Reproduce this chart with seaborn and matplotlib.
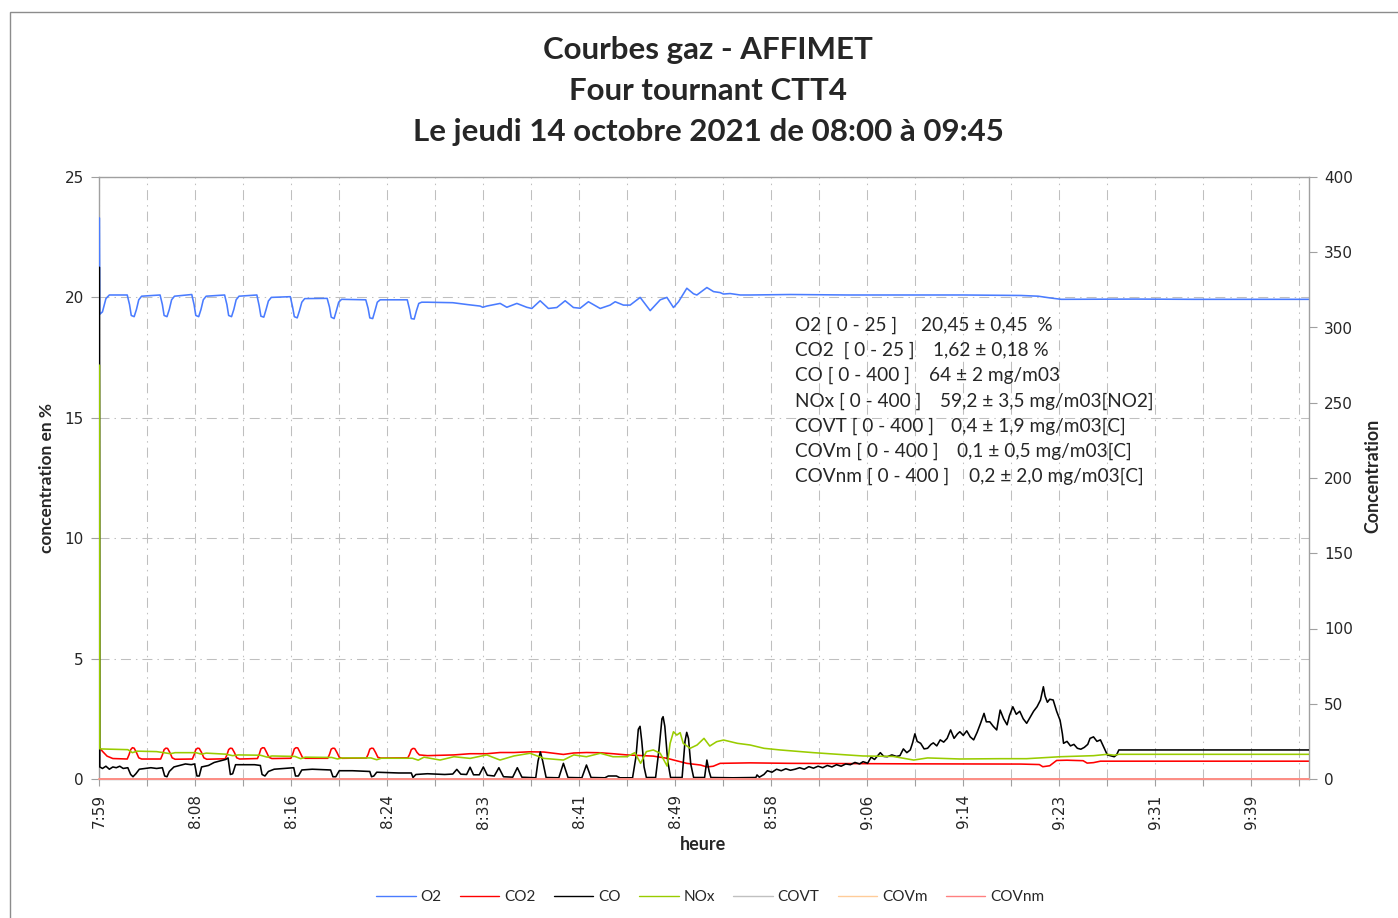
import numpy as np
import matplotlib
matplotlib.use("Agg")
import matplotlib.pyplot as plt
from matplotlib.lines import Line2D
from matplotlib.patches import Rectangle
import seaborn as sns

# time axis: minutes after 7:59:40, one label every 500 s
TICK_LABELS = ["7:59", "8:08", "8:16", "8:24", "8:33", "8:41", "8:49",
               "8:58", "9:06", "9:14", "9:23", "9:31", "9:39"]
X_END = 105.0

# (minutes, %)  -- left axis
O2 = [
    (0.04, 23.3), (0.07, 19.3), (0.3, 19.4), (0.6, 19.95), (0.9, 20.1),
    (2.45, 20.1), (2.65, 19.7), (2.8, 19.25), (3.05, 19.2), (3.25, 19.5), (3.45, 19.9), (3.7, 20.05),
    (5.3, 20.1), (5.5, 19.7), (5.65, 19.25), (5.9, 19.2), (6.1, 19.5), (6.3, 19.9), (6.55, 20.05),
    (8.05, 20.12), (8.25, 19.7), (8.4, 19.25), (8.65, 19.2), (8.85, 19.5), (9.05, 19.9), (9.3, 20.05),
    (10.9, 20.1), (11.1, 19.7), (11.25, 19.25), (11.5, 19.2), (11.7, 19.5), (11.9, 19.9), (12.15, 20.05),
    (13.7, 20.1), (13.9, 19.65), (14.05, 19.22), (14.3, 19.18), (14.5, 19.5), (14.7, 19.85), (14.95, 20.0),
    (16.6, 20.03), (16.8, 19.6), (16.95, 19.2), (17.2, 19.15), (17.4, 19.45), (17.6, 19.8), (17.85, 19.95),
    (19.8, 19.96), (20.0, 19.6), (20.15, 19.18), (20.4, 19.12), (20.6, 19.45), (20.8, 19.8), (21.05, 19.92),
    (23.15, 19.9), (23.35, 19.55), (23.5, 19.15), (23.75, 19.12), (23.95, 19.45), (24.15, 19.8), (24.4, 19.9),
    (26.75, 19.9), (26.95, 19.5), (27.1, 19.12), (27.35, 19.1), (27.55, 19.45), (27.75, 19.75), (28.0, 19.8),
    (28.5, 19.8), (30.7, 19.78), (32.0, 19.7), (33.07, 19.64), (33.3, 19.59), (33.65, 19.64),
    (34.81, 19.75), (35.39, 19.59), (36.26, 19.75), (37.12, 19.59), (37.56, 19.54), (38.28, 19.86),
    (39.0, 19.54), (39.73, 19.58), (40.45, 19.86), (41.17, 19.58), (41.75, 19.55), (42.47, 19.82),
    (43.49, 19.54), (44.35, 19.68), (44.79, 19.82), (45.51, 19.68), (46.09, 19.68), (46.96, 20.0),
    (47.83, 19.45), (48.7, 19.9), (49.28, 20.0), (49.85, 19.58), (50.29, 19.82), (51.01, 20.38),
    (51.59, 20.15), (51.88, 20.1), (52.75, 20.41), (53.33, 20.24), (53.9, 20.2), (54.19, 20.14),
    (54.77, 20.16), (55.64, 20.1), (56.51, 20.1), (60, 20.12), (65, 20.1), (70, 20.1), (75, 20.1),
    (80, 20.08), (81.5, 20.05), (82.5, 19.98), (83.5, 19.92), (90, 19.93), (95, 19.92), (105, 19.92),
]

CO2 = [
    (0.04, 1.3), (0.3, 1.15), (0.7, 0.95), (1.2, 0.85), (2.45, 0.83), (2.6, 1.0), (2.75, 1.22), (2.9, 1.3),
    (3.05, 1.28), (3.25, 1.1), (3.45, 0.88), (3.7, 0.83),
    (5.35, 0.83), (5.5, 1.0), (5.65, 1.22), (5.8, 1.28), (5.95, 1.27), (6.15, 1.1), (6.35, 0.88), (6.6, 0.82),
    (8.1, 0.83), (8.25, 1.0), (8.4, 1.22), (8.55, 1.28), (8.7, 1.27), (8.9, 1.1), (9.1, 0.88), (9.35, 0.82),
    (10.95, 0.84), (11.1, 1.0), (11.25, 1.22), (11.4, 1.28), (11.55, 1.27), (11.75, 1.1), (11.95, 0.88), (12.2, 0.83),
    (13.75, 0.85), (13.9, 1.02), (14.05, 1.25), (14.2, 1.3), (14.35, 1.29), (14.55, 1.1), (14.75, 0.9), (15.0, 0.85),
    (16.65, 0.86), (16.8, 1.02), (16.95, 1.25), (17.1, 1.3), (17.25, 1.29), (17.45, 1.1), (17.65, 0.9), (17.9, 0.86),
    (19.85, 0.86), (20.0, 1.02), (20.15, 1.24), (20.3, 1.28), (20.45, 1.27), (20.65, 1.1), (20.85, 0.9), (21.1, 0.86),
    (23.2, 0.87), (23.35, 1.02), (23.5, 1.24), (23.65, 1.28), (23.8, 1.27), (24.0, 1.1), (24.2, 0.9), (24.45, 0.87),
    (26.8, 0.88), (26.95, 1.02), (27.1, 1.22), (27.25, 1.27), (27.4, 1.26), (27.6, 1.1), (27.8, 1.0), (28.5, 0.97),
    (30.8, 1.0), (32.2, 1.05), (33.65, 1.05), (34.8, 1.1), (36.0, 1.1), (37.4, 1.13), (38.6, 1.12),
    (40.3, 1.02), (41.2, 1.08), (42.3, 1.1), (43.5, 1.09), (44.6, 1.05), (45.8, 1.0), (48.1, 0.95),
    (49.3, 0.86), (49.85, 0.79), (51.0, 0.65), (52.2, 0.58), (52.75, 0.5), (53.3, 0.53), (53.9, 0.65),
    (56.5, 0.67), (60, 0.65), (70, 0.63), (80, 0.62), (81.6, 0.6), (81.9, 0.51), (82.5, 0.55),
    (83.1, 0.77), (84.0, 0.78), (85.4, 0.76), (85.75, 0.66), (86.3, 0.68), (86.9, 0.74), (105, 0.74),
]

# (minutes, mg/m3)  -- right axis
CO = [
    (0.04, 340), (0.07, 8), (0.3, 7), (0.6, 8.5), (0.9, 6.5), (1.2, 8), (1.5, 7.5), (1.8, 8.5), (2.1, 7),
    (2.5, 7.5), (2.75, 3), (2.95, 1.5), (3.2, 3.5), (3.5, 6.5), (4.0, 7), (4.5, 7.5), (5.0, 7),
    (5.5, 7.5), (5.7, 2), (5.9, 1.5), (6.1, 5), (6.5, 8), (7.0, 9), (7.5, 10), (8.0, 9.5), (8.3, 10),
    (8.5, 2), (8.7, 2), (8.9, 8), (9.5, 9), (10.0, 11), (10.5, 12), (11.0, 13), (11.2, 14), (11.4, 3),
    (11.6, 3.5), (11.85, 9.5), (13.5, 9.5), (14.0, 9), (14.15, 3), (14.4, 2), (14.7, 5), (15.2, 6.5),
    (16.0, 7), (16.9, 7.5), (17.05, 2), (17.3, 2), (17.6, 6), (18.5, 6.5), (20.1, 6), (20.3, 1.5),
    (20.55, 1.5), (20.85, 5.5), (22.0, 5.5), (23.5, 5), (23.65, 1.5), (23.85, 2), (24.1, 4.5),
    (26.0, 4), (27.1, 4), (27.25, 1), (27.5, 3), (28.5, 3.5), (30.0, 3),
    (30.7, 3.3), (31.05, 6.4), (31.4, 3.2), (31.9, 3), (32.2, 7.8), (32.5, 2.8), (33.0, 2.8),
    (33.35, 8), (33.7, 2.5), (34.3, 2), (34.7, 7.5), (35.1, 1.5), (35.9, 1.2), (36.3, 7.5),
    (36.7, 1.2), (37.9, 0.8), (38.1, 12), (38.3, 18), (38.5, 12), (38.8, 1), (39.9, 0.8),
    (40.3, 10.4), (40.7, 1), (41.9, 0.8), (42.3, 9.3), (42.7, 1), (43.9, 0.8), (44.2, 2),
    (44.9, 2), (45.2, 0.8), (46.3, 0.8), (46.6, 15), (46.8, 33), (46.95, 35), (47.1, 25),
    (47.3, 8), (47.5, 1), (48.3, 1), (48.6, 20), (48.85, 40), (48.95, 41.4), (49.1, 35),
    (49.35, 12), (49.6, 1), (50.6, 1), (50.85, 25), (51.0, 31), (51.15, 27), (51.35, 10),
    (51.6, 1), (52.55, 1), (52.75, 12.6), (52.95, 5), (53.1, 1), (55.0, 0.8), (57.0, 1),
    (57.1, 2.7), (57.3, 1.2), (57.7, 3), (58.0, 5.5), (58.4, 4.5), (58.8, 6.5), (59.2, 5.5),
    (59.6, 6.8), (60.0, 5.8), (60.4, 6.5), (60.8, 7.5), (61.2, 6.5), (61.6, 8.2), (62.0, 7.2),
    (62.4, 8.5), (62.8, 7.5), (63.2, 9), (63.6, 8), (64.0, 9.5), (64.4, 8.5), (64.8, 10),
    (65.2, 9.5), (65.6, 11), (66.0, 10), (66.3, 11.5), (66.7, 10.5), (67.0, 14.5), (67.3, 13),
    (67.8, 17.5), (68.1, 15), (68.4, 14.8), (68.8, 16), (69.2, 15), (69.5, 15.5), (69.8, 20),
    (70.1, 17.5), (70.4, 19.3), (70.6, 24), (70.8, 30), (71.0, 25), (71.3, 23.7), (71.6, 20),
    (71.9, 20.4), (72.2, 23), (72.4, 24), (72.7, 22), (73.0, 26), (73.3, 24.5), (73.6, 27),
    (73.9, 32.6), (74.2, 27), (74.5, 30), (74.7, 31.4), (75.0, 29), (75.3, 32), (75.6, 28),
    (75.9, 26), (76.2, 31), (76.5, 37), (76.8, 43.6), (77.0, 38), (77.3, 38), (77.6, 35),
    (77.9, 32.6), (78.2, 45.8), (78.5, 40), (78.8, 36), (79.0, 42), (79.3, 48), (79.6, 43),
    (79.9, 45), (80.2, 40), (80.5, 37), (80.8, 41), (81.1, 45), (81.4, 48), (81.7, 52.5),
    (81.95, 61.3), (82.1, 55), (82.3, 51), (82.5, 53), (82.8, 52.5), (83.1, 45), (83.4, 39),
    (83.6, 30), (83.7, 23.7), (84.0, 25), (84.3, 22), (84.6, 23), (84.9, 20.4), (85.2, 19.8),
    (85.5, 21), (85.8, 23), (86.0, 27), (86.3, 28), (86.6, 25), (86.9, 26), (87.2, 21),
    (87.5, 16), (88.1, 14.8), (88.3, 16), (88.5, 19.3), (105, 19.3),
]

NOX = [
    (0.04, 275), (0.07, 20), (1.0, 19.8), (2.5, 19.5), (2.9, 17.5), (3.3, 18.5), (5.0, 18.2), (5.6, 17.5),
    (6.2, 16.8), (6.6, 17.5), (8.4, 17.5), (8.9, 16.5), (9.3, 17.2), (11.0, 16.5), (11.6, 15.5),
    (12.1, 16.0), (14.0, 15.8), (14.6, 14.5), (15.0, 15.3), (17.0, 15.0), (17.5, 13.5), (17.9, 14.5),
    (20.2, 14.3), (20.7, 13.3), (21.1, 14.0), (23.6, 14.0), (24.1, 12.8), (24.5, 13.8), (27.2, 13.8),
    (27.7, 12.5), (28.2, 14.5), (29.6, 12.6), (30.8, 14.8), (32.2, 13.7), (33.65, 16.0), (34.8, 12.6),
    (36.0, 15.3), (37.4, 17.1), (38.6, 13.7), (40.3, 12.6), (41.2, 16.0), (42.3, 14.8), (43.5, 17.1),
    (44.6, 14.8), (45.8, 14.8), (46.5, 17.5), (47.0, 10.4), (47.5, 18.2), (48.1, 19.3), (48.7, 17.1),
    (49.3, 8.6), (49.56, 23.7), (49.85, 31.4), (50.14, 29.2), (50.43, 30.8), (50.7, 23.7), (51.3, 20.4),
    (51.9, 22.6), (52.5, 27.0), (53.0, 21.9), (53.6, 24.8), (54.2, 25.9), (55.4, 23.7), (56.5, 22.6),
    (57.7, 20.4), (59.1, 19.3), (62.0, 17.5), (64.9, 16.0), (66.3, 15.3), (68.9, 15.0), (70.7, 12.6),
    (71.9, 14.0), (74.7, 13.3), (78.2, 13.5), (80.5, 13.5), (83.4, 14.8), (86.3, 15.5), (87.5, 16.4),
    (88.1, 15.8), (88.5, 16.4), (105, 16.4),
]

COVT = [(0, 0.0), (105, 0.0)]
COVM = [(0, 0.0), (105, 0.0)]
COVNM = [(0, 0.0), (105, 0.0)]

SERIES_NAMES = ["O2", "CO2", "CO", "NOx", "COVT", "COVm", "COVnm"]
SERIES_COLORS = ["#4a7cff", "#ff0000", "#000000", "#99cc00", "#c0c0c0", "#ffcc99", "#ff8080"]

STAT_LABELS = ["O2 [ 0 - 25 ]", "CO2  [ 0 - 25 ]", "CO [ 0 - 400 ]", "NOx [ 0 - 400 ]",
               "COVT [ 0 - 400 ]", "COVm [ 0 - 400 ]", "COVnm [ 0 - 400 ]"]
STAT_VALUES = ["20,45 ± 0,45  %", "1,62 ± 0,18 %", "64 ± 2 mg/m03", "59,2 ± 3,5 mg/m03[NO2]",
               "0,4 ± 1,9 mg/m03[C]", "0,1 ± 0,5 mg/m03[C]", "0,2 ± 2,0 mg/m03[C]"]

TITLE_LINES = ["Courbes gaz - AFFIMET", "Four tournant CTT4",
               "Le jeudi 14 octobre 2021 de 08:00 à 09:45"]

sns.set_style("white")
plt.rcParams["font.family"] = ["DejaVu Sans"]

W, H = 1398, 918
fig = plt.figure(figsize=(W / 100, H / 100), dpi=100)
fx = lambda px: px / W
fy = lambda py: 1 - py / H

ax = fig.add_axes([fx(99), fy(779), fx(1309) - fx(99), fy(177) - fy(779)])
ax2 = ax.twinx()

grid_color = "#bfbfbf"
spine_color = "#a0a0a0"
dash = (0, (9.6, 4.8, 1.4, 4.8))


def draw(axis, data, color, clip=True):
    t, v = zip(*data)
    sns.lineplot(x=list(t), y=list(v), ax=axis, color=color, linewidth=1.15,
                 legend=False, clip_on=clip, zorder=3)


draw(ax, O2, SERIES_COLORS[0])
draw(ax, CO2, SERIES_COLORS[1])
draw(ax2, CO, SERIES_COLORS[2])
draw(ax2, NOX, SERIES_COLORS[3])
draw(ax2, COVT, SERIES_COLORS[4], clip=False)
draw(ax2, COVM, SERIES_COLORS[5], clip=False)
draw(ax2, COVNM, SERIES_COLORS[6], clip=False)

ax.set_xlim(0, X_END)
ax.set_ylim(0, 25)
ax2.set_ylim(0, 400)

step = 25 / 6
xt = np.arange(0, X_END, step)
labels = []
for i in range(len(xt)):
    labels.append(TICK_LABELS[i // 2] if i % 2 == 0 else "")
ax.set_xticks(xt)
ax.set_xticklabels(labels, rotation=90, fontsize=11)
ax.set_yticks(np.arange(0, 26, 5))
ax.tick_params(axis="y", labelsize=11, length=6, color=spine_color, pad=5, direction="out")
ax.tick_params(axis="x", length=5, color=spine_color, pad=6, direction="out")
ax2.set_yticks(np.arange(0, 401, 50))
ax2.tick_params(axis="y", labelsize=11, length=6, color=spine_color, pad=5, direction="out")
ax.tick_params(left=True, bottom=True)
ax2.tick_params(right=True)

ax.grid(True, axis="both", color=grid_color, linewidth=0.75, linestyle=dash)
ax2.grid(False)
for s in ax.spines.values():
    s.set_color(spine_color)
    s.set_linewidth(1.0)
for name, s in ax2.spines.items():
    s.set_color(spine_color)
    s.set_linewidth(1.0)
    s.set_visible(name == "right")
ax.spines["right"].set_visible(False)
ax.set_xlabel("")
ax.set_ylabel("")
ax2.set_ylabel("")

# title
for i, line in enumerate(TITLE_LINES):
    fig.text(fx(708), fy(50 + 41 * i), line, ha="center", va="center",
             fontsize=22.5, fontweight="bold", family="Lato")

# axis labels
fig.text(fx(47), fy(478), "concentration en %", rotation=90, ha="center", va="center",
         fontsize=12.5, fontweight="bold", family="Lato")
fig.text(fx(1373), fy(476), "Concentration", rotation=90, ha="center", va="center",
         fontsize=12.8, fontweight="bold", family="Lato")
fig.text(fx(703), fy(845), "heure", ha="center", va="center",
         fontsize=13, fontweight="bold", family="Lato")

# statistics block
value_x = [921, 933, 929, 940, 951, 957, 969]
for i, (lab, val) in enumerate(zip(STAT_LABELS, STAT_VALUES)):
    yy = fy(325 + 25.3 * i)
    fig.text(fx(795), yy, lab, ha="left", va="center", fontsize=13.7, family="Lato")
    fig.text(fx(value_x[i]), yy, val, ha="left", va="center", fontsize=13.7, family="Lato")

# legend
handles = [Line2D([], [], color=c, linewidth=1.0) for c in SERIES_COLORS]
fig.legend(handles, SERIES_NAMES, loc="center", bbox_to_anchor=(fx(710), fy(897)), ncol=7,
           frameon=False, prop={"family": "Lato", "size": 11}, handlelength=2.6,
           handletextpad=0.3, columnspacing=1.2)

# chart area border
fig.patches.append(Rectangle((fx(10), -0.05), 1.2, fy(12) + 0.05, transform=fig.transFigure,
                             fill=False, edgecolor="#8c8c8c", linewidth=1.0))

fig.savefig("out.png", dpi=100)
